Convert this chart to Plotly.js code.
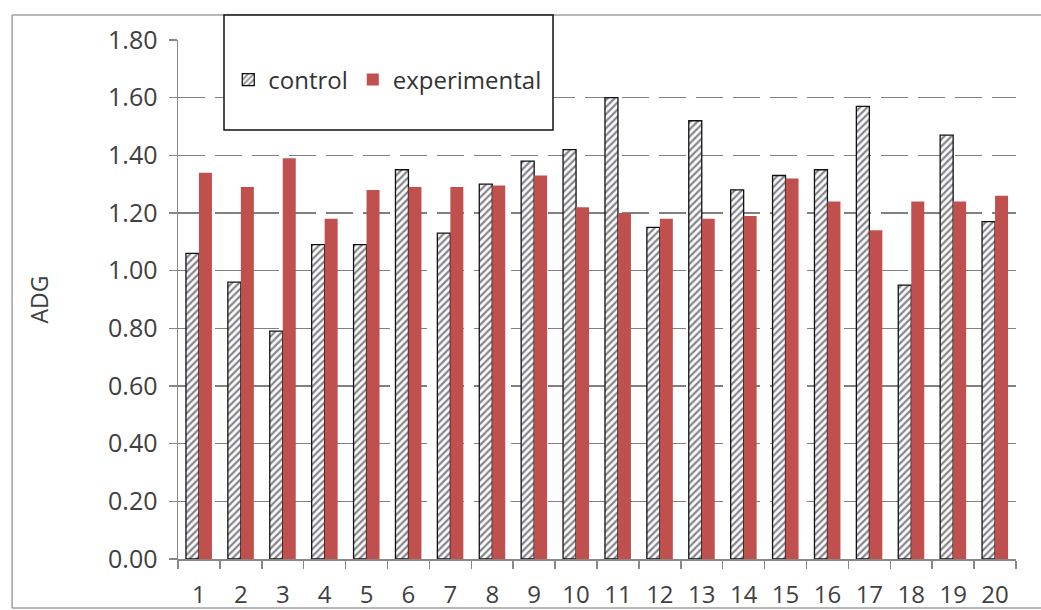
<!DOCTYPE html>
<html>
<head>
<meta charset="utf-8">
<script src="https://cdn.plot.ly/plotly-3.0.1.min.js"></script>
<style>html,body{margin:0;padding:0;background:#fff;overflow:hidden;}#chart{width:1041px;height:610px;}</style>
</head>
<body>
<div id="chart"></div>
<script>
const categories = ['1','2','3','4','5','6','7','8','9','10','11','12','13','14','15','16','17','18','19','20'];
const controlValues = [1.06,0.96,0.79,1.09,1.09,1.35,1.13,1.30,1.38,1.42,1.60,1.15,1.52,1.28,1.33,1.35,1.57,0.95,1.47,1.17];
const experimentalValues = [1.34,1.29,1.39,1.18,1.28,1.29,1.29,1.295,1.33,1.22,1.20,1.18,1.18,1.19,1.32,1.24,1.14,1.24,1.24,1.26];
const seriesNames = ['control','experimental'];
const yTitle = 'ADG';

const FONT = 'Open Sans, sans-serif';

const traces = [
  {
    type: 'bar', name: seriesNames[0], x: categories, y: controlValues,
    marker: {
      color: '#ffffff',
      line: {color: '#111111', width: 1.3},
      pattern: {shape: '/', fgcolor: '#111111', bgcolor: '#fbfbff', size: 5, solidity: 0.45, fillmode: 'overlay'}
    },
    hoverinfo: 'x+y'
  },
  {
    type: 'bar', name: seriesNames[1], x: categories, y: experimentalValues,
    marker: {color: '#C0504D', line: {width: 0}},
    hoverinfo: 'x+y'
  }
];

const borderLine = {color: '#a0a0a0', width: 1.5};

const layout = {
  width: 1041, height: 610,
  margin: {l: 178, r: 25, t: 40, b: 51, pad: 0},
  paper_bgcolor: '#ffffff', plot_bgcolor: '#ffffff',
  font: {family: FONT, size: 24, color: '#404040'},
  barmode: 'group', bargap: 0.38, bargroupgap: 0,
  showlegend: true,
  legend: {
    orientation: 'h', x: 0.06, xanchor: 'left', y: 0.923, yanchor: 'middle',
    bgcolor: 'rgba(0,0,0,0)', borderwidth: 0,
    font: {family: FONT, size: 24, color: '#333333'}
  },
  xaxis: {
    type: 'category', tickson: 'boundaries', ticks: 'outside', ticklen: 8,
    tickcolor: '#888888', tickwidth: 1.5,
    showline: true, linecolor: '#888888', linewidth: 1.5,
    showgrid: false, zeroline: false,
    tickfont: {family: FONT, size: 24, color: '#404040'},
    ticklabelstandoff: 14, fixedrange: true
  },
  yaxis: {
    range: [0, 1.8], dtick: 0.2, tick0: 0, tickformat: '.2f',
    ticks: 'outside', ticklen: 8, tickcolor: '#888888', tickwidth: 1.5,
    showline: true, linecolor: '#888888', linewidth: 1.5,
    showgrid: true, gridcolor: '#808080', gridwidth: 1.5, griddash: '27px,10px',
    zeroline: false,
    tickfont: {family: FONT, size: 25, color: '#404040'},
    ticklabelstandoff: 6,
    title: {text: yTitle, font: {family: FONT, size: 23, color: '#404040'}, standoff: 53},
    automargin: false, fixedrange: true
  },
  shapes: [
    {type: 'line', xref: 'paper', yref: 'paper', x0: -0.198, x1: 1.0298, y0: 1.048, y1: 1.048, line: borderLine, layer: 'below'},
    {type: 'line', xref: 'paper', yref: 'paper', x0: -0.198, x1: -0.198, y0: -0.0944, y1: 1.048, line: borderLine, layer: 'below'},
    {type: 'line', xref: 'paper', yref: 'paper', x0: -0.198, x1: 1.0298, y0: -0.0944, y1: -0.0944, line: borderLine, layer: 'below'},
    {type: 'rect', xref: 'paper', yref: 'paper', x0: 0.0549, x1: 0.4475, y0: 0.8266, y1: 1.048,
     line: {color: '#111111', width: 1.5}, fillcolor: '#ffffff', layer: 'above'}
  ]
};

Plotly.newPlot('chart', traces, layout, {staticPlot: true, displayModeBar: false});
</script>
</body>
</html>
